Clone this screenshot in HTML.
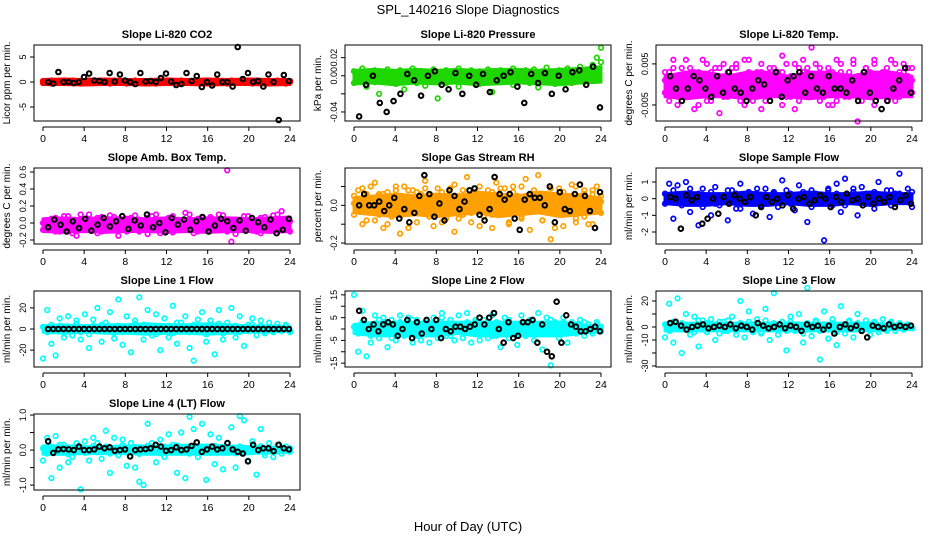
<!DOCTYPE html>
<html><head><meta charset="utf-8"><style>
html,body{margin:0;padding:0;background:#fff;}
svg{display:block;font-family:"Liberation Sans",sans-serif;}
</style></head><body>
<svg id="chart" width="936" height="540" viewBox="0 0 936 540">
<text x="468" y="14" text-anchor="middle" font-size="13">SPL_140216  Slope Diagnostics</text>
<text x="468" y="531" text-anchor="middle" font-size="13">Hour of Day (UTC)</text>
<g id="plots"></g>
</svg>
<script>
const hourTicks = [0,4,8,12,16,20,24];
const bandHours = [0,2,4,6,8,10,12,14,16,18,20,22,24];

const co2BandLow = [-0.5,-0.5,-0.6,-0.5,-0.5,-0.6,-0.5,-0.5,-0.6,-0.5,-0.5,-0.6,-0.5];
const co2BandHigh = [0.5,0.6,0.5,0.6,0.5,0.5,0.6,0.5,0.6,0.5,0.6,0.5,0.5];
const co2Color1 = [0.2,-0.1,0.3,0,0.2,-0.2,0.1,0.3,-0.1,0.2,0,0.3,-0.2,0.1,0.2,0,-0.1,0.3,0.1,-0.2,0.2,0,0.3,-0.1,0.1,0.2,-0.2,0,0.3,0.1,-0.1,0.2,0,0.3,-0.2,0.1,0.2,-0.1,0,0.3,0.1,-0.2,0.2,0,0.1,0.3,-0.1,0.2,0,-0.2,0.1,0.3,0,0.2,-0.1,0.1,0.3,0,-0.2,0.2];
const co2Color2 = [-0.2,0.1,-0.3,0.2,-0.1,0.3,-0.2,0,0.1,-0.3,0.2,-0.1,0.1,-0.2,0,0.2,-0.3,0,-0.1,0.2,-0.3,0.1,0,-0.2,0.2,-0.1,0.1,-0.3,0,-0.2,0.2,-0.1,0.1,-0.3,0.2,0,-0.1,0.2,-0.3,0,-0.2,0.1,-0.1,0.2,-0.3,0,0.1,-0.2,0.2,0,-0.3,-0.1,0.2,0,-0.2,0.1,-0.1,0.2,-0.3,0];
const co2Black = [0,-0.3,2,0,0,-0.2,0,1,1.7,0.3,0.2,0,1.8,0.1,1.5,0.3,0,-0.4,1.8,0.1,0.2,0,0.8,1.7,0.1,-0.6,-0.4,1.8,0.2,1.2,-1,0,-0.7,1.5,0,0,-0.9,7,0.6,1.8,0,0.2,-0.9,1.5,0,-7.6,1.4,0.2];

const presBandLow = [-0.009,-0.008,-0.01,-0.008,-0.009,-0.008,-0.01,-0.009,-0.008,-0.009,-0.01,-0.008,-0.007];
const presBandHigh = [0.006,0.007,0.006,0.007,0.006,0.007,0.006,0.007,0.007,0.006,0.007,0.008,0.01];
const presColor1 = [0.005,-0.002,0.008,0.003,-0.005,0.006,0.001,-0.003,0.007,0.004,-0.001,0.006,-0.006,0.003,0.008,-0.002,0.005,0.001,-0.004,0.007,0.002,-0.003,0.006,0.004,-0.001,0.008,0.003,-0.005,0.006,0.002,0.005,-0.002,0.007,0.001,-0.004,0.006,0.003,-0.001,0.008,0.004,-0.003,0.006,0.002,0.007,-0.002,0.005,0.009,0.001,-0.003,0.006,0.004,0.008,-0.001,0.005,0.01,0.003,0.007,0.012,0.005,0.015];
const presColor2 = [-0.008,0.002,-0.004,-0.012,0.001,-0.007,-0.02,0.003,-0.006,-0.001,-0.009,0.002,-0.015,-0.005,0,-0.008,-0.003,-0.011,0.001,-0.006,-0.025,-0.002,-0.008,0.001,-0.005,-0.012,-0.002,-0.007,0.002,-0.004,-0.009,0,-0.006,-0.018,-0.003,-0.007,0.001,-0.005,-0.01,-0.002,-0.006,0.002,-0.008,-0.004,-0.013,0,-0.006,-0.002,-0.009,0.001,-0.005,-0.003,-0.008,0.002,-0.004,-0.007,0,-0.003,0.02,0.031];
const presBlack = [-0.045,-0.01,0,-0.03,-0.04,-0.028,-0.02,0.002,-0.005,-0.022,0,0.005,-0.01,-0.015,0.003,-0.02,0,-0.01,0.002,-0.018,-0.005,0,0.004,-0.012,-0.03,0.002,-0.008,0.003,-0.02,0,-0.015,0.004,0.006,-0.01,0.01,-0.035];

const tempBandLow = [-0.003,-0.0035,-0.003,-0.003,-0.0035,-0.003,-0.003,-0.0035,-0.003,-0.003,-0.0035,-0.003,-0.003];
const tempBandHigh = [0.002,0.003,0.003,0.002,0.003,0.003,0.002,0.003,0.003,0.002,0.003,0.003,0.002];
const tempColor1 = [0.001,-0.004,0.004,0.002,-0.002,0.006,-0.001,0.003,-0.005,0.002,0.005,-0.002,0.001,0.004,-0.003,0.003,0,0.005,-0.004,0.002,0.006,-0.001,0.003,-0.006,0.001,0.004,-0.002,0.002,0.007,-0.003,0.001,0.005,-0.004,0.003,0,0.009,-0.002,0.004,0.001,-0.005,0.003,0.006,-0.001,0.002,-0.003,0.005,-0.009,0.001,0.004,-0.002,0.006,0,0.003,-0.004,0.002,0.005,-0.001,0.003,0.004,0.001];
const tempColor2 = [-0.002,0.003,-0.001,-0.005,0.004,-0.003,0.002,-0.006,0.001,-0.002,-0.004,0.003,-0.001,-0.007,0.002,-0.003,0.004,-0.002,0.001,-0.005,-0.001,0.002,-0.003,0.003,-0.004,0,-0.002,0.003,-0.005,0.001,-0.003,-0.006,0.002,-0.001,0.004,-0.003,0.001,-0.004,0.002,-0.002,-0.005,0,0.003,-0.003,0.001,-0.002,0.002,-0.004,-0.001,0.003,-0.005,0.001,-0.002,0.002,-0.003,-0.004,0.003,-0.001,0.002,-0.002];
const tempColor3 = [0.003,0,0.006,-0.003,0.002,0.001,0.004,-0.001,0.003,0.006,0,-0.004,0.004,0.002,0.005,-0.001,0.002,0.004,-0.002,0.006,0.003,-0.004,0.001,0.005,0.002,-0.003,0.004,0,0.003,0.005,0.002,-0.002,0.004,0.006,-0.001,0.002,0.005,0.001,-0.003,0.004,0.002,-0.004,0.005,0.001,0.003,0.006,-0.002,0.002,0.004,0,0.005,0.002,-0.002,0.004,0.006,0.001,-0.003,0.005,0.002,0.004];
const tempBlack = [0.002,-0.001,-0.004,-0.001,0.002,0.001,-0.001,-0.003,0.002,-0.002,0.003,-0.001,-0.002,-0.004,-0.001,0.001,0,-0.004,0.003,-0.003,0.001,0.002,0.003,-0.002,0.002,-0.001,-0.002,0.002,-0.001,-0.001,-0.002,0.001,-0.004,0.003,-0.002,-0.004,-0.006,-0.004,-0.001,0.001,0.004,-0.002];

const ambBandLow = [-0.1,-0.11,-0.1,-0.11,-0.1,-0.1,-0.11,-0.1,-0.11,-0.1,-0.1,-0.11,-0.1];
const ambBandHigh = [0.05,0.06,0.05,0.06,0.06,0.05,0.06,0.05,0.06,0.06,0.05,0.06,0.07];
const ambColor1 = [0,-0.05,0.05,-0.1,0.02,-0.03,0.08,-0.12,0,0.04,-0.08,0.1,-0.02,0.06,-0.1,0.03,-0.05,0.07,-0.15,0.01,0.05,-0.06,0.09,-0.1,0.02,0.06,-0.03,0.1,-0.12,0.04,-0.02,0.08,-0.07,0.03,0.12,-0.05,0.02,-0.1,0.07,0,0.05,-0.08,0.1,-0.03,0.62,-0.22,0.04,-0.06,0.08,-0.02,0.03,-0.1,0.06,0,-0.05,0.09,-0.04,0.14,-0.08,0.02];
const ambColor2 = [-0.08,0.03,-0.02,0.06,-0.1,0.08,-0.05,0.02,-0.15,0.1,0.01,-0.06,0.04,-0.12,0.07,-0.03,0.09,-0.09,0.02,-0.04,-0.1,0.06,-0.02,0.04,-0.08,-0.13,0.08,-0.04,0.02,-0.09,0.06,-0.11,0.01,-0.04,-0.08,0.1,-0.12,0.05,-0.03,-0.09,0.07,-0.01,-0.06,0.09,-0.1,0.04,-0.13,0.02,-0.06,0.08,-0.09,0.03,-0.12,0.07,-0.02,-0.08,0.1,-0.05,0.03,-0.1];
const ambBlack = [-0.05,0.04,-0.02,-0.1,0.02,-0.06,0.05,-0.09,-0.02,0.06,-0.04,0.02,0.08,-0.07,0.03,-0.03,0.1,-0.05,0,-0.11,0.06,-0.02,0.04,-0.08,0.02,0.07,-0.1,-0.03,0.05,0.02,-0.06,0.03,-0.09,0.06,0.01,-0.05,0.04,-0.12,-0.08,0.05];

const rhBandLow = [-0.04,-0.05,-0.06,-0.05,-0.06,-0.05,-0.04,-0.06,-0.05,-0.04,-0.06,-0.05,-0.04];
const rhBandHigh = [0.04,0.05,0.06,0.05,0.06,0.05,0.07,0.06,0.05,0.07,0.06,0.05,0.04];
const rhColor1 = [0.05,-0.02,0.09,-0.08,0.03,0.12,-0.05,0.06,-0.1,0.02,0.08,-0.04,0.1,-0.12,0.04,0.07,-0.03,0.13,-0.06,0.01,0.09,-0.09,0.05,-0.02,0.11,-0.07,0.03,0.15,-0.04,0.06,-0.11,0.02,0.08,-0.05,0.12,-0.02,0.04,-0.09,0.1,0.01,-0.06,0.14,0.03,-0.03,0.16,-0.08,0.06,0.02,-0.12,0.09,-0.04,0.05,0.11,-0.07,0.03,0.08,-0.1,0.06,0.1,0.02];
const rhColor2 = [-0.05,0.03,-0.1,0.06,-0.03,-0.08,0.05,-0.12,0.02,-0.06,0.04,-0.15,0.01,-0.04,0.08,-0.09,0,-0.03,0.06,-0.11,-0.02,0.04,-0.07,0.02,-0.14,0.05,-0.05,0.01,-0.09,0.07,-0.02,-0.06,0.03,-0.12,0.04,-0.04,0.09,-0.1,-0.01,0.05,-0.07,0.02,-0.13,0.06,-0.03,-0.08,0.03,-0.18,0.01,-0.05,-0.11,0.04,-0.02,-0.09,0.05,-0.06,0.02,-0.1,0.03,-0.04];
const rhColor3 = [0.01,0.08,0,0.04,0.1,-0.01,0.06,0.02,0.07,-0.03,0.1,0.05,-0.01,0.08,0.03,0,0.06,0.09,0.01,0.05,0.02,0.07,-0.02,0.09,0.04,0.01,0.08,0.03,0.06,-0.01,0.1,0.05,0,0.07,0.02,0.09,-0.02,0.04,0.07,0.01,0.1,0.05,0,0.08,0.03,0.06,-0.01,0.09,0.04,0.02,0.07,0,0.05,0.1,0.02,0.06,-0.01,0.08,0.03,0.05];
const rhBlack = [0,0.06,0,0,0.02,-0.03,0,0.04,-0.07,-0.02,-0.09,-0.04,0.05,0.16,0.06,-0.06,0.01,-0.08,0.08,0.05,-0.02,0.02,0.08,0.09,-0.05,-0.08,-0.02,0.15,0.06,0.03,0.06,-0.07,-0.13,0.03,0.06,0.04,0.04,0,0.1,-0.09,0.07,-0.02,-0.03,0.06,0.11,0.05,-0.03,-0.12,0.07];

const flowBandLow = [-0.3,-0.4,-0.4,-0.3,-0.4,-0.4,-0.3,-0.4,-0.4,-0.3,-0.4,-0.3,-0.3];
const flowBandHigh = [0.3,0.4,0.3,0.3,0.4,0.3,0.3,0.4,0.3,0.3,0.4,0.3,0.3];
const flowColor1 = [0.3,-0.2,0.5,0,-0.4,0.2,0.6,-0.1,0.3,-0.5,0.1,0.4,-0.3,0.2,0,0.5,-0.2,0.3,-0.6,0.1,0.4,-0.1,0.2,-0.4,0.6,0,0.3,-0.2,0.1,0.5,-0.3,0.2,-0.1,0.4,0,-0.5,0.3,0.1,-0.2,0.5,-0.1,0.3,0,-0.4,0.2,0.6,-0.2,0.1,0.3,-0.3,0.4,0,0.2,-0.1,0.5,-0.3,0.3,0.1,-0.2,0.4];
const flowColor2 = [-0.3,0.9,-1.2,0.8,-0.2,1,-0.8,0.1,-1.6,0.6,-0.1,-1,0.7,-0.4,0.2,-1.3,0.5,-0.6,0.9,-0.2,0.1,-0.9,0.6,-0.3,0.2,-1.1,0.4,-0.5,1.1,-0.2,0.3,-0.7,0.8,-0.1,-1.4,0.5,-0.3,0.2,-2.5,0.6,-0.4,0.9,-0.8,1.2,-0.2,0.4,-1,0.7,-0.3,0.2,-0.6,1,-0.1,0.5,-0.4,0.3,1.5,-0.2,0.6,-0.5];
const flowBlack = [0.1,0,-1.8,0.2,-0.1,0.1,-1.5,-1.2,0,-0.9,0.1,-0.3,0.2,0,-0.2,0.1,-1,-0.5,0.1,-0.2,0,-0.4,0.2,-0.6,0,0.1,-0.3,-0.1,0.2,0,-0.5,0.1,-0.2,0.3,-0.1,0,-0.4,0.1,-0.3,0,-0.2,0.1,-0.5,-0.1,0.2,-0.3];

const line1BandLow = [-3,-4,-3,-4,-4,-5,-4,-4,-5,-4,-3,-3,-2];
const line1BandHigh = [3,4,3,4,4,5,4,4,5,4,3,3,2];
const line1Color1 = [2,-3,4,-1,3,-4,1,-2,5,-3,2,-5,3,-1,4,-2,1,-4,3,-3,2,-1,5,-2,4,-3,1,-5,2,-1,3,-4,6,-2,1,-3,4,-1,2,-5,3,-2,5,-4,1,-1,3,-3,2,-2,4,-1,3,-3,1,-2,2,-1,3,-2];
const line1Color2 = [-28,18,-14,-25,10,-8,12,-6,8,-10,14,-18,9,20,-12,6,16,-9,28,-15,12,-22,8,30,-10,18,-6,14,-20,10,-8,22,-14,6,12,-18,-30,9,16,-12,8,-24,18,-10,6,20,-8,12,-16,4,10,-6,8,-4,6,-3,5,-2,4,-3];
const line1Black = [0,0,0,0,0,0,0,0,0,0,0,0,0,0,0,0,0,0,0,0,0,0,0,0,0,0,0,0,0,0,0,0,0,0,0,0,0,0,0,0,0,0,0,0,0,0,0,0];

const line2BandLow = [-2,-3,-3,-3,-3,-2,-3,-3,-3,-3,-3,-2,-1];
const line2BandHigh = [2,3,3,3,3,3,3,3,3,3,3,2,1];
const line2Color1 = [1,-2,3,0,-3,2,4,-1,1,-4,2,3,-2,0,4,-3,1,2,-1,3,-2,5,0,-3,2,1,-4,3,-1,4,0,-2,2,-3,3,1,-1,4,-2,2,0,-3,3,1,-1,2,-2,4,0,-1,3,-2,1,2,-1,3,0,-1,2,1];
const line2Color2 = [15,-10,8,-12,-6,6,-4,5,-8,4,-5,6,-3,5,-6,4,-5,3,-6,5,-4,7,-3,4,-5,6,-2,7,-6,3,-5,4,-4,6,-3,-8,5,-4,2,-7,6,-3,4,-5,7,-9,5,-16,3,-4,5,-6,3,-2,4,-3,2,-2,3,-1];
const line2Black = [8,4,0,2,-1,2,3,2,-3,0,4,-4,3,-2,4,0,4,-4,0,-1,1,1,0,1,2,5,2,5,7,0,-6,3,-4,-3,3,3,4,-6,2,-10,-12,12,-6,6,2,1,-1,-1,0,1,-1];

const line3BandLow = [-3,-3,-3,-3,-3,-3,-3,-3,-3,-3,-3,-2,-2];
const line3BandHigh = [3,3,3,3,3,3,3,3,3,3,3,2,2];
const line3Color1 = [2,-3,4,-1,3,-2,1,-4,5,-2,3,-1,2,-5,4,-3,1,-2,3,-1,4,-3,2,-4,5,-1,3,-2,1,-3,4,-2,2,-5,3,-1,4,-3,2,-2,3,-4,1,-1,5,-2,3,-3,2,-1,4,-2,1,-3,3,-1,2,-2,1,-1];
const line3Color2 = [-8,18,-12,22,-20,10,-6,8,-15,5,-4,6,-10,4,-3,5,8,-6,20,-8,12,-4,6,-5,14,-10,26,-6,4,-18,8,-3,10,-12,30,-7,5,-25,12,-9,6,-14,16,-5,4,-8,10,-3,5,-6,3,-4,6,-2,4,-3,3,-2,2,-1];
const line3Black = [3,4,1,-2,0,1,2,-1,0,1,0,2,-1,1,0,-2,3,1,-1,0,2,-1,1,0,-3,2,0,1,-2,1,-5,0,2,-1,1,-3,-8,1,0,-1,2,0,1,0,1];

const line4BandLow = [-0.12,-0.12,-0.1,-0.1,-0.1,-0.12,-0.12,-0.12,-0.12,-0.12,-0.1,-0.08,-0.06];
const line4BandHigh = [0.12,0.12,0.1,0.1,0.12,0.12,0.12,0.14,0.14,0.12,0.1,0.08,0.06];
const line4Color1 = [0.05,-0.1,0.1,-0.05,0.15,0,-0.12,0.08,-0.04,0.1,-0.08,0.05,0.12,-0.06,0.02,0.1,-0.1,0.06,-0.02,0.14,-0.07,0.04,0.09,-0.11,0.03,0.12,-0.05,0.07,-0.09,0.1,0.01,-0.06,0.13,-0.03,0.06,-0.1,0.11,-0.04,0.08,0.02,-0.08,0.12,-0.05,0.09,-0.02,0.06,-0.09,0.1,0.03,-0.06,0.08,-0.03,0.11,-0.07,0.05,0.02,-0.04,0.07,0.01,0.05];
const line4Color2 = [-0.3,0.35,-0.8,0.4,-0.5,0.15,-0.35,-0.2,0.2,-1.12,0.25,-0.3,0.35,0.2,-0.25,0.55,-0.65,0.35,-0.15,0.3,-0.45,0.2,-0.5,-0.9,-1,0.75,0.2,-0.35,0.3,-0.2,0.45,0.15,-0.65,0.5,-0.8,0.95,0.6,-0.2,0.75,-0.85,0.45,-0.4,0.35,-0.55,0.2,0.65,-0.5,0.97,0.85,-0.3,0.25,-0.7,0.6,-0.15,0.2,-0.2,0.15,-0.1,0.1,-0.05];
const line4Black = [0.25,-0.08,0.02,0.03,0.02,0,0.1,0,0,0.02,0.1,0.05,0.08,-0.02,0,0.02,-0.18,0,0.02,0.03,0.05,0.15,0.1,-0.02,0,0.08,0,0.02,0.12,0.22,-0.05,0.02,0.1,0.02,0.05,0.2,0.02,-0.05,-0.1,-0.32,0.15,0,0.05,0.05,-0.03,0.15,0.05,0.02];

const panels = [
 {name:'co2',title:'Slope Li-820 CO2',ylab:'Licor ppm per min.',col:0,row:0,yr:[-7.8,7.4],ticks:[-5,0,5],labels:['-5','0','5'],color:'#ff0000',band:[co2BandLow,co2BandHigh],series:[co2Color1,co2Color2],black:co2Black},
 {name:'pressure',title:'Slope Li-820 Pressure',ylab:'kPa per min.',col:1,row:0,yr:[-0.05,0.034],ticks:[-0.04,-0.02,0,0.02],labels:['-0.04','','0.00','0.02'],color:'#1ed600',band:[presBandLow,presBandHigh],series:[presColor1,presColor2],black:presBlack},
 {name:'temp',title:'Slope Li-820 Temp.',ylab:'degrees C per min.',col:2,row:0,yr:[-0.0089,0.0096],ticks:[-0.005,0.005],labels:['-0.005','0.005'],color:'#ff00ff',band:[tempBandLow,tempBandHigh],series:[tempColor1,tempColor2,tempColor3],black:tempBlack},
 {name:'amb-box-temp',title:'Slope Amb. Box Temp.',ylab:'degrees C per min.',col:0,row:1,yr:[-0.247,0.647],ticks:[-0.2,0,0.2,0.4,0.6],labels:['-0.2','0.0','0.2','0.4','0.6'],color:'#ff00ff',band:[ambBandLow,ambBandHigh],series:[ambColor1,ambColor2],black:ambBlack},
 {name:'gas-rh',title:'Slope Gas Stream RH',ylab:'percent per min.',col:1,row:1,yr:[-0.205,0.198],ticks:[-0.2,-0.1,0,0.1],labels:['-0.2','','0.0',''],color:'#ffa000',band:[rhBandLow,rhBandHigh],series:[rhColor1,rhColor2,rhColor3],black:rhBlack},
 {name:'sample-flow',title:'Slope Sample Flow',ylab:'ml/min per min.',col:2,row:1,yr:[-2.72,1.84],ticks:[-2,-1,0,1],labels:['-2','-1','0','1'],color:'#0000ff',band:[flowBandLow,flowBandHigh],series:[flowColor1,flowColor2],black:flowBlack},
 {name:'line1-flow',title:'Slope Line 1 Flow',ylab:'ml/min per min.',col:0,row:2,yr:[-36,36],ticks:[-20,0,20],labels:['-20','0','20'],color:'#00ffff',band:[line1BandLow,line1BandHigh],series:[line1Color1,line1Color2],black:line1Black},
 {name:'line2-flow',title:'Slope Line 2 Flow',ylab:'ml/min per min.',col:1,row:2,yr:[-16.7,16.7],ticks:[-15,-10,-5,0,5,10,15],labels:['-15','','-5','','5','','15'],color:'#00ffff',band:[line2BandLow,line2BandHigh],series:[line2Color1,line2Color2],black:line2Black},
 {name:'line3-flow',title:'Slope Line 3 Flow',ylab:'ml/min per min.',col:2,row:2,yr:[-30.8,27.7],ticks:[-30,-20,-10,0,10,20],labels:['-30','','-10','0','','20'],color:'#00ffff',band:[line3BandLow,line3BandHigh],series:[line3Color1,line3Color2],black:line3Black},
 {name:'line4-flow',title:'Slope Line 4 (LT) Flow',ylab:'ml/min per min.',col:0,row:3,yr:[-1.14,1.03],ticks:[-1,-0.5,0,0.5,1],labels:['-1.0','','0.0','','1.0'],color:'#00ffff',band:[line4BandLow,line4BandHigh],series:[line4Color1,line4Color2],black:line4Black}
];

const NS='http://www.w3.org/2000/svg';
const root=document.getElementById('plots');
function mk(tag,attrs,parent){const e=document.createElementNS(NS,tag);for(const k in attrs)e.setAttribute(k,attrs[k]);parent.appendChild(e);return e;}

panels.forEach(p=>{
  const x0=34+311*p.col, x1=x0+266, y0=45+123*p.row, y1=y0+76;
  const g=mk('g',{},root);
  
  
  const xs=h=>x0+9+(h/24)*247;
  const ys=v=>y1-(v-p.yr[0])/(p.yr[1]-p.yr[0])*(y1-y0);
  const t=mk('text',{x:(x0+x1)/2,y:y0-7,'text-anchor':'middle','font-size':'11','font-weight':'bold'},g);
  t.textContent=p.title;
  
  
  const yl=mk('text',{x:0,y:0,'text-anchor':'middle','font-size':'10',transform:`translate(${x0-24},${(y0+y1)/2}) rotate(-90)`},g);
  yl.textContent=p.ylab;
  
  
  const [lo,hi]=p.band;
  let d='';
  bandHours.forEach((h,i)=>{d+=(i?'L':'M')+xs(h)+','+ys(hi[i]);});
  for(let i=bandHours.length-1;i>=0;i--){d+='L'+xs(bandHours[i])+','+ys(lo[i]);}
  const band=mk('path',{d:d+'Z',fill:p.color,stroke:p.color,'stroke-width':'3','stroke-linejoin':'round'},g);
  
  
  const pts=mk('g',{fill:'none','stroke-width':'1.7'},g);
  
  
  p.series.forEach(s=>{
    s.forEach((v,i)=>{
      const c=mk('circle',{cx:xs(i*24/(s.length-1)),cy:ys(v),r:2.3,stroke:p.color},pts);
      
      
    });
  });
  p.black.forEach((v,i)=>{
    const c=mk('circle',{cx:xs(0.5+i*23.4/(p.black.length-1)),cy:ys(v),r:2.3,stroke:'#000','stroke-width':'2'},pts);
    
    
  });
  const box=mk('rect',{x:x0,y:y0,width:x1-x0,height:y1-y0,fill:'none',stroke:'#000','stroke-width':'1'},g);
  
  
  const xa=mk('g',{'font-size':'10.5'},g);
  
  
  mk('line',{x1:xs(0),x2:xs(24),y1:y1+6,y2:y1+6,stroke:'#000'},xa);
  hourTicks.forEach(h=>{
    mk('line',{x1:xs(h),x2:xs(h),y1:y1+6,y2:y1+10,stroke:'#000'},xa);
    const tl=mk('text',{x:xs(h),y:y1+21,'text-anchor':'middle'},xa);
    tl.textContent=h;
    
    
  });
  const ya=mk('g',{'font-size':'9'},g);
  
  
  mk('line',{x1:x0,x2:x0,y1:ys(p.ticks[0]),y2:ys(p.ticks[p.ticks.length-1]),stroke:'#000'},ya);
  p.ticks.forEach((v,i)=>{
    mk('line',{x1:x0-4,x2:x0,y1:ys(v),y2:ys(v),stroke:'#000'},ya);
    if(p.labels[i]){
      const tl=mk('text',{x:0,y:0,'text-anchor':'middle',transform:`translate(${x0-8},${ys(v)}) rotate(-90)`},ya);
      tl.textContent=p.labels[i];
      
      
    }
  });
});
</script>
</body></html>
